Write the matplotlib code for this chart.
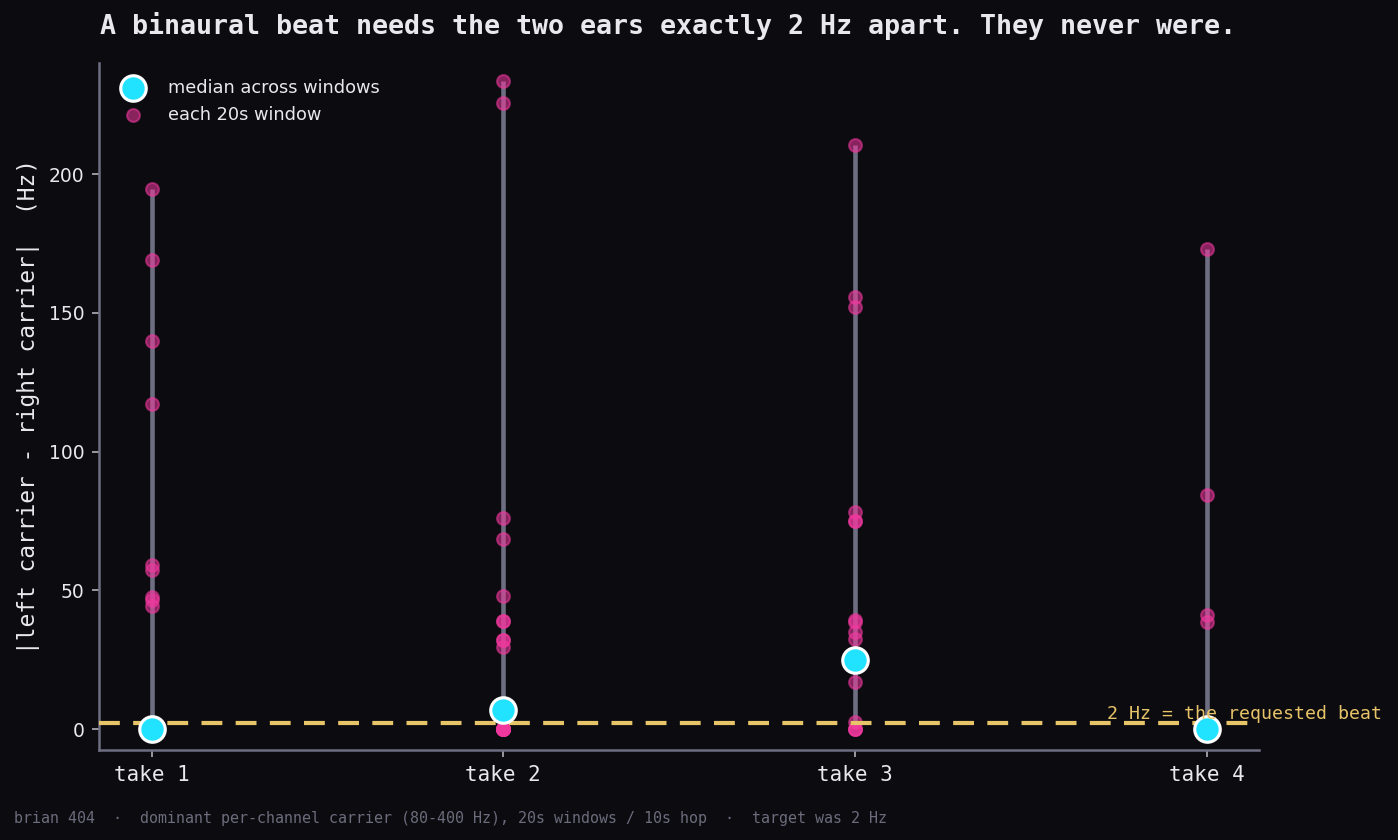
import numpy as np
import matplotlib
matplotlib.use("Agg")
import matplotlib.pyplot as plt

# per-take |L - R| carrier differences, one value per 20s window
takes = ["take 1", "take 2", "take 3", "take 4"]
take1 = [194.6, 169.0, 140.0, 117.0, 59.0, 57.3, 47.5, 46.5, 44.3, 0, 0, 0, 0, 0, 0, 0, 0, 0, 0]
take2 = [233.5, 225.6, 76.0, 68.5, 48.0, 39.0, 39.0, 32.0, 32.0, 29.5, 6.8, 0, 0, 0, 0, 0, 0, 0, 0]
take3 = [210.5, 155.7, 152.0, 78.3, 75.0, 75.0, 39.3, 38.5, 35.0, 32.5, 25.0, 17.0, 2.5, 0, 0, 0]
take4 = [173.0, 84.2, 41.2, 38.7, 0, 0, 0, 0, 0, 0]
windows = [take1, take2, take3, take4]
medians = [0.0, 6.8, 25.0, 0.0]
target = 2.0

BG = "#0b0b10"
FG = "#e8e8ee"
GREY = "#6e6e82"
PINK = "#f2389f"
CYAN = "#22e3ff"
GOLD = "#e8c468"

plt.rcParams["font.family"] = "DejaVu Sans"
fig = plt.figure(figsize=(9.32, 5.6), dpi=150, facecolor=BG)
ax = fig.add_axes([0.0708, 0.107, 0.830, 0.818])
ax.set_facecolor(BG)

for i, vals in enumerate(windows):
    ax.plot([i, i], [min(vals), max(vals)], color=GREY, lw=2.2, zorder=1,
            solid_capstyle="butt")
    ax.scatter(np.full(len(vals), i), vals, s=38, color=PINK, alpha=0.55,
               linewidths=1.0, zorder=2,
               label="each 20s window" if i == 0 else None)

ax.scatter(range(len(takes)), medians, s=150, color=CYAN, edgecolors="white",
           linewidths=1.5, zorder=4, label="median across windows")

ax.axhline(target, color=GOLD, lw=2.0, ls=(0, (5, 3.2)), zorder=3)
ax.text(3.50, target + 0.2, "2 Hz = the requested beat", color=GOLD,
        fontsize=8.75, family="DejaVu Sans Mono", ha="right", va="bottom",
        clip_on=False, zorder=5)

ax.set_xlim(-0.15, 3.15)
ax.set_ylim(-7.6, 240)
ax.set_xticks(range(len(takes)))
ax.set_xticklabels(takes, family="DejaVu Sans Mono", fontsize=10)
ax.set_yticks([0, 50, 100, 150, 200])
ax.tick_params(colors=FG, labelsize=9)
ax.tick_params(axis="x", colors="#b0b0bc", labelcolor=FG, labelsize=10)
ax.tick_params(axis="y", colors="#b0b0bc", labelcolor=FG)
for s in ["top", "right"]:
    ax.spines[s].set_visible(False)
for s in ["left", "bottom"]:
    ax.spines[s].set_color(GREY)
    ax.spines[s].set_linewidth(1.2)

ax.set_ylabel("|left carrier - right carrier|  (Hz)", family="DejaVu Sans Mono",
              fontsize=11, color=FG)

handles, labels = ax.get_legend_handles_labels()
order = [labels.index("median across windows"), labels.index("each 20s window")]
leg = ax.legend([handles[k] for k in order], [labels[k] for k in order],
                loc="upper left", frameon=False, fontsize=8.5,
                labelcolor=FG, borderaxespad=0.5, handletextpad=1.0)

fig.text(0.0715, 1 - 26 / 840, "A binaural beat needs the two ears exactly 2 Hz apart. They never were.",
         family="DejaVu Sans Mono", fontweight="bold", fontsize=12.8, color=FG,
         ha="left", va="center")
fig.text(0.01, 1 - 818 / 840,
         "brian 404  \u00b7  dominant per-channel carrier (80-400 Hz), 20s windows / 10s hop  \u00b7  target was 2 Hz",
         family="DejaVu Sans Mono", fontsize=7.2, color="#6c6c7c", ha="left", va="center")

fig.savefig("out.png", dpi=150, facecolor=BG)
